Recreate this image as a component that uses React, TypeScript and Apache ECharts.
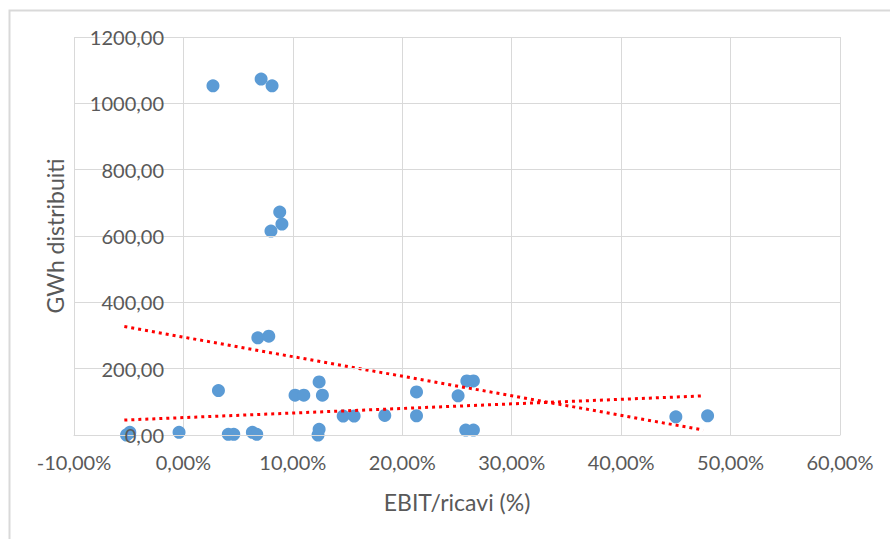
import React, { useEffect, useRef } from "react";
import * as echarts from "echarts";

// EBIT/ricavi (%) and GWh distribuiti
const ebitPct: number[] = [
  2.7, 7.1, 8.1, 8.8, 9.0, 8.0, 6.8, 7.8, 3.2, -5.2, -4.9, -0.4, 4.1, 4.6, 6.3, 6.7,
  10.2, 11.0, 12.4, 12.7, 12.4, 12.3, 14.6, 15.6, 18.4, 21.3, 21.3, 25.9, 26.5, 25.1,
  25.8, 26.5, 45.0, 47.9,
];
const gwh: number[] = [
  1053, 1073, 1053, 672, 636, 615, 293, 298, 134, 0, 8, 8, 2, 2, 8, 2,
  120, 120, 160, 120, 17, 0, 57, 57, 59, 130, 58, 163, 163, 118,
  15, 15, 55, 58,
];

// trend lines (end points)
const trend1X: number[] = [-5.4, 47.5];
const trend1Y: number[] = [327, 15];
const trend2X: number[] = [-5.4, 47.5];
const trend2Y: number[] = [45, 118];

const xTicks = { min: -10, max: 60, interval: 10 };
const yTicks = { min: 0, max: 1200, interval: 200 };

const xTitle = "EBIT/ricavi (%)";
const yTitle = "GWh distribuiti";

const FONT = "Lato";
const LABEL_COLOR = "#595959";
const GRID_COLOR = "#d9d9d9";

const fmt = (v: number) => v.toFixed(2).replace(".", ",");

export default function App() {
  const ref = useRef<HTMLDivElement>(null);
  useEffect(() => {
    if (!ref.current) return;
    const chart = echarts.init(ref.current, undefined, { renderer: "svg" });
    const points = ebitPct.map((x, i) => [x, gwh[i]]);
    const t1 = trend1X.map((x, i) => [x, trend1Y[i]]);
    const t2 = trend2X.map((x, i) => [x, trend2Y[i]]);
    chart.setOption({
      animation: false,
      backgroundColor: "#ffffff",
      textStyle: { fontFamily: FONT },
      grid: {
        left: 74,
        right: 50,
        top: 37,
        bottom: 104,
        containLabel: false,
        outerBoundsMode: "none",
      },
      graphic: [
        {
          type: "rect",
          shape: { x: 9.5, y: 10.5, width: 920, height: 600 },
          style: { fill: "none", stroke: GRID_COLOR, lineWidth: 2 },
          silent: true,
          z: -1,
        },
        {
          type: "text",
          x: 457,
          y: 502,
          style: {
            text: xTitle,
            fill: LABEL_COLOR,
            font: `23px ${FONT}`,
            textAlign: "center",
            textVerticalAlign: "middle",
          },
          silent: true,
        },
        {
          type: "text",
          x: 55,
          y: 236,
          rotation: Math.PI / 2,
          style: {
            text: yTitle,
            fill: LABEL_COLOR,
            font: `23px ${FONT}`,
            textAlign: "center",
            textVerticalAlign: "middle",
          },
          silent: true,
        },
      ],
      xAxis: {
        type: "value",
        min: xTicks.min,
        max: xTicks.max,
        interval: xTicks.interval,
        axisLine: { show: true, onZero: true, lineStyle: { color: GRID_COLOR, width: 1 } },
        axisTick: { show: false },
        axisLabel: {
          color: LABEL_COLOR,
          fontSize: 20,
          fontFamily: FONT,
          margin: 17,
          formatter: (v: number) => fmt(v) + "%",
        },
        splitLine: { show: true, lineStyle: { color: GRID_COLOR, width: 1 } },
      },
      yAxis: {
        type: "value",
        min: yTicks.min,
        max: yTicks.max,
        interval: yTicks.interval,
        z: 5,
        axisLine: { show: false, onZero: false },
        axisTick: { show: false },
        axisLabel: {
          color: LABEL_COLOR,
          fontSize: 20,
          fontFamily: FONT,
          margin: -90,
          formatter: (v: number) => fmt(v),
        },
        splitLine: { show: true, lineStyle: { color: GRID_COLOR, width: 1 } },
      },
      series: [
        {
          name: "GWh distribuiti",
          type: "scatter",
          data: points,
          symbol: "circle",
          symbolSize: 13,
          itemStyle: { color: "#5b9bd5", opacity: 1 },
          z: 2,
        },
        {
          name: "Tendenza 1",
          type: "line",
          data: t1,
          symbol: "none",
          lineStyle: { color: "#ff0000", width: 3, type: [3, 4], cap: "butt" },
          z: 3,
        },
        {
          name: "Tendenza 2",
          type: "line",
          data: t2,
          symbol: "none",
          lineStyle: { color: "#ff0000", width: 3, type: [3, 4], cap: "butt" },
          z: 3,
        },
      ],
    });
    return () => chart.dispose();
  }, []);
  return (
    <div
      ref={ref}
      style={{ position: "fixed", left: 0, top: 0, width: 890, height: 539, background: "#fff" }}
    />
  );
}
